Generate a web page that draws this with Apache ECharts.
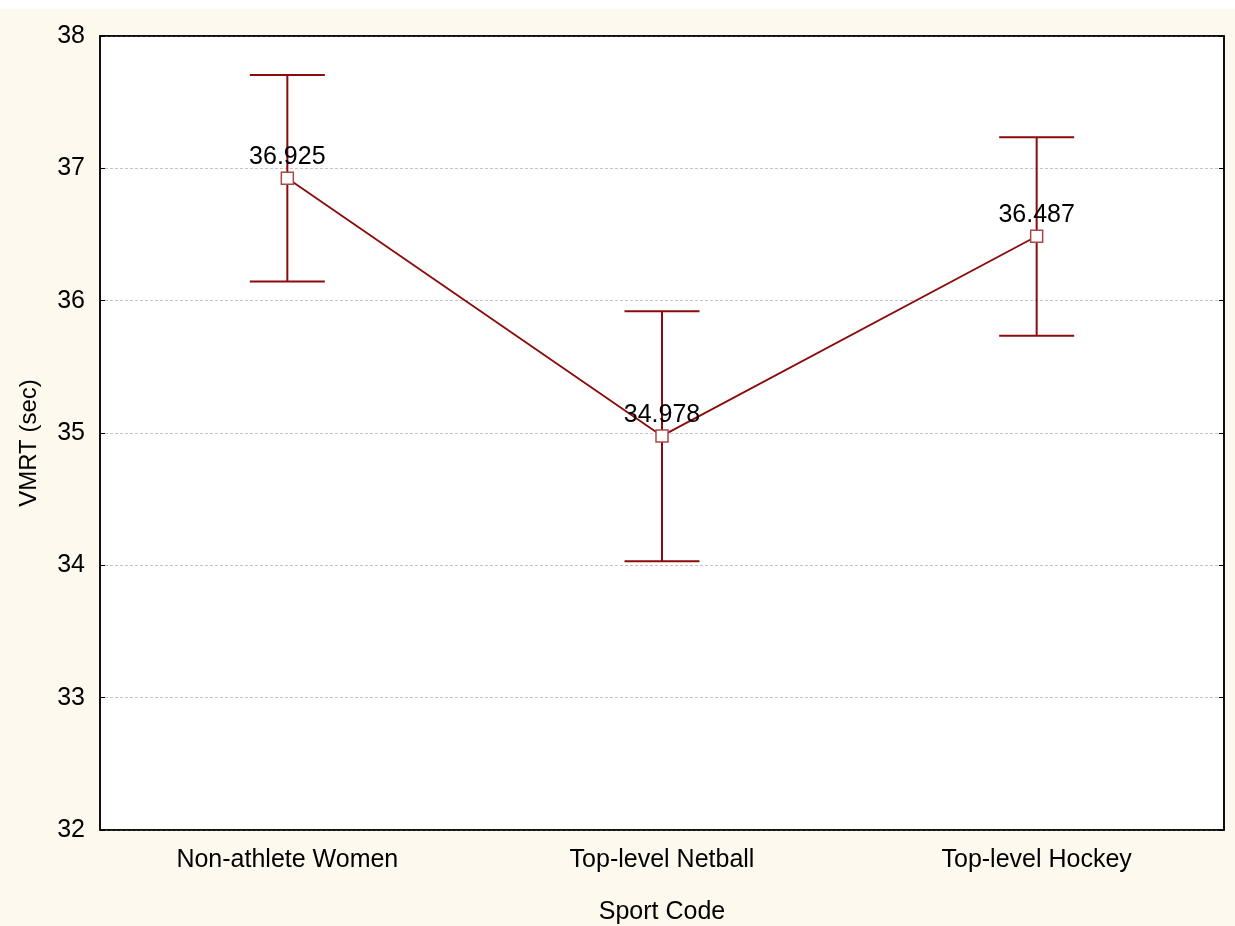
<!DOCTYPE html>
<html>
<head>
<meta charset="utf-8">
<script src="https://cdn.jsdelivr.net/npm/echarts@6/dist/echarts.min.js"></script>
<style>
  html, body { margin: 0; padding: 0; background: #ffffff; }
  #wrap { position: absolute; left: 0; top: 9px; width: 1235px; height: 917px; background: #fdf9ee; }
  #chart { position: absolute; left: 0; top: 0; width: 1235px; height: 926px; }
</style>
</head>
<body>
<div id="wrap"></div>
<div id="chart"></div>
<script>
// Mean VMRT per group with 95% confidence interval bounds
const categories = ['Non-athlete Women', 'Top-level Netball', 'Top-level Hockey'];
const means = [36.925, 34.978, 36.487];
const lower = [36.145, 34.030, 35.735];
const upper = [37.705, 35.920, 37.235];
const yTicks = [32, 33, 34, 35, 36, 37, 38];

const RED = '#8b0a0a';
const FONT = 'Liberation Sans';
const chart = echarts.init(document.getElementById('chart'), null, { renderer: 'canvas' });

const errData = categories.map((c, i) => [i, lower[i], upper[i]]);

chart.setOption({
  backgroundColor: 'transparent',
  animation: false,
  grid: {
    left: 100, right: 11, top: 36, bottom: 96,
    containLabel: false, outerBoundsMode: 'none',
    show: true, backgroundColor: '#ffffff', borderColor: '#000', borderWidth: 1.5
  },
  xAxis: [{
    type: 'category',
    data: categories,
    boundaryGap: true,
    name: 'Sport Code',
    nameLocation: 'middle',
    nameGap: 70,
    nameTextStyle: { fontFamily: FONT, fontSize: 25, color: '#000' },
    axisLine: { lineStyle: { color: '#000', width: 1.5 } },
    axisTick: { inside: true, alignWithLabel: true, length: 5, lineStyle: { color: '#000' } },
    axisLabel: { fontFamily: FONT, fontSize: 25, color: '#000', margin: 18 },
    splitLine: { show: false }
  }, {
    type: 'category',
    data: categories,
    position: 'top',
    boundaryGap: true,
    axisLine: { lineStyle: { color: '#000', width: 1.5 } },
    axisTick: { inside: true, alignWithLabel: true, length: 5, lineStyle: { color: '#000' } },
    axisLabel: { show: false }
  }],
  yAxis: [{
    type: 'value',
    min: 32, max: 38, interval: 1,
    name: 'VMRT (sec)',
    nameLocation: 'middle',
    nameGap: 59,
    nameTextStyle: { fontFamily: FONT, fontSize: 24, color: '#000', padding: [0, 0, 0, -20] },
    axisLine: { show: true, lineStyle: { color: '#000', width: 1.5 } },
    axisTick: { show: true, inside: true, length: 5, lineStyle: { color: '#000' } },
    axisLabel: {
      fontFamily: FONT, fontSize: 25, color: '#000', margin: 15,
      formatter: v => yTicks.includes(v) ? String(v) : ''
    },
    splitLine: { show: true, lineStyle: { color: '#c4c4c4', type: [3, 2], width: 1 } }
  }, {
    type: 'value',
    position: 'right',
    min: 32, max: 38, interval: 1,
    axisLine: { show: true, lineStyle: { color: '#000', width: 1.5 } },
    axisTick: { show: true, inside: true, length: 5, lineStyle: { color: '#000' } },
    axisLabel: { show: false },
    splitLine: { show: false }
  }],
  series: [{
    type: 'custom',
    name: 'CI',
    xAxisIndex: 0, yAxisIndex: 0,
    data: errData,
    z: 2,
    renderItem: function (params, api) {
      const x = api.coord([api.value(0), api.value(1)])[0];
      const lo = api.coord([api.value(0), api.value(1)])[1];
      const hi = api.coord([api.value(0), api.value(2)])[1];
      const half = 37.5;
      const style = { stroke: RED, lineWidth: 2, fill: null };
      return {
        type: 'group',
        children: [
          { type: 'line', shape: { x1: x, y1: hi, x2: x, y2: lo }, style },
          { type: 'line', shape: { x1: x - half, y1: hi, x2: x + half, y2: hi }, style },
          { type: 'line', shape: { x1: x - half, y1: lo, x2: x + half, y2: lo }, style }
        ]
      };
    }
  }, {
    type: 'line',
    name: 'Mean',
    xAxisIndex: 0, yAxisIndex: 0,
    data: means,
    z: 3,
    lineStyle: { color: RED, width: 1.8 },
    symbol: 'rect',
    symbolSize: 12,
    itemStyle: { color: '#ffffff', borderColor: '#a84848', borderWidth: 1.5 },
    label: {
      show: true,
      position: 'top',
      distance: 2,
      fontFamily: FONT,
      fontSize: 25,
      color: '#000',
      formatter: p => p.value.toFixed(3)
    }
  }]
});
</script>
</body>
</html>
